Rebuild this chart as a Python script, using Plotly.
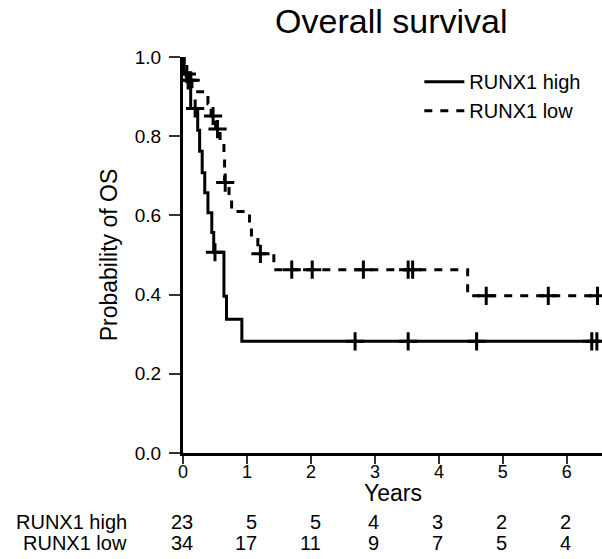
import numpy as np
import plotly.graph_objects as go

# ---- data ----
series_names = ["RUNX1 high", "RUNX1 low"]

high_event_times = [0.016, 0.12, 0.23, 0.26, 0.30, 0.34, 0.39, 0.45, 0.48, 0.64, 0.68, 0.92]
high_event_surv = [0.957, 0.870, 0.815, 0.762, 0.708, 0.657, 0.607, 0.557, 0.507, 0.396, 0.338, 0.282]
high_censor_times = [0.06, 0.19, 0.50, 2.69, 3.52, 4.59, 6.39, 6.47]

low_event_times = [0.016, 0.05, 0.14, 0.39, 0.44, 0.51, 0.58, 0.64, 0.65, 0.72, 0.76, 1.04, 1.07, 1.17, 1.42, 4.45]
low_event_surv = [0.971, 0.941, 0.912, 0.882, 0.851, 0.818, 0.786, 0.750, 0.683, 0.647, 0.610, 0.574, 0.539, 0.503, 0.463, 0.397]
low_censor_times = [0.08, 0.12, 0.47, 0.54, 0.66, 1.21, 1.70, 2.02, 2.82, 3.52, 3.59, 4.74, 5.71, 6.48]

x_ticks = [0, 1, 2, 3, 4, 5, 6]
y_ticks = [0.0, 0.2, 0.4, 0.6, 0.8, 1.0]
risk_high = [23, 5, 5, 4, 3, 2, 2]
risk_low = [34, 17, 11, 9, 7, 5, 4]

FONT = "Arial, Liberation Sans, sans-serif"


def step_curve(times, surv, end_time):
    xs = [0.0] + list(times) + [end_time]
    ys = [1.0] + list(surv) + [surv[-1]]
    return xs, ys


def surv_at(times, surv, t):
    idx = np.searchsorted(np.array(times), np.array(t), side="right")
    vals = np.concatenate([[1.0], surv])
    return vals[idx]


fig = go.Figure()

specs = [
    (series_names[1], low_event_times, low_event_surv, low_censor_times, "8px,8px", 3),
    (series_names[0], high_event_times, high_event_surv, high_censor_times, "solid", 3),
]

for name, et, es, ct, dash, lw in specs:
    xs, ys = step_curve(et, es, max(ct))
    fig.add_trace(go.Scatter(
        x=xs, y=ys, mode="lines", name=name,
        line=dict(color="black", width=lw, dash=dash, shape="hv"),
        legendrank=1 if name == series_names[0] else 2,
    ))
    fig.add_trace(go.Scatter(
        x=ct, y=surv_at(et, es, ct), mode="markers", showlegend=False,
        marker=dict(symbol="cross-thin", size=13, color="black",
                    line=dict(color="black", width=3)),
        hoverinfo="skip",
    ))

# number-at-risk table
annotations = []
rows = [(series_names[0], risk_high, -69), (series_names[1], risk_low, -90)]
for label, counts, shift in rows:
    annotations.append(dict(
        text=label, xref="paper", yref="paper", x=0, y=0,
        xanchor="right", yanchor="middle", xshift=-54, yshift=shift,
        showarrow=False, font=dict(family=FONT, size=20, color="black"),
    ))
for j, t in enumerate(x_ticks):
    w = max(len(str(risk_high[j])), len(str(risk_low[j]))) * 11.1
    for label, counts, shift in rows:
        annotations.append(dict(
            text=str(counts[j]), xref="x", yref="paper", x=t, y=0,
            xanchor="right", yanchor="middle", xshift=w / 2 + 1, yshift=shift,
            showarrow=False, font=dict(family=FONT, size=20, color="black"),
        ))
# x-axis title
annotations.append(dict(
    text="Years", xref="paper", yref="paper", x=0.5, y=0,
    xanchor="center", yanchor="middle", yshift=-40,
    showarrow=False, font=dict(family=FONT, size=23, color="black"),
))

fig.update_layout(
    template="none",
    width=602, height=559,
    margin=dict(l=183, r=0, t=57, b=106, autoexpand=False),
    plot_bgcolor="white", paper_bgcolor="white",
    font=dict(family=FONT, color="black"),
    title=dict(text="Overall survival", x=0.65, xanchor="center",
               y=1 - 21 / 559, yanchor="middle", yref="container",
               font=dict(family=FONT, size=34, color="black")),
    legend=dict(x=0.564, y=0.987, xanchor="left", yanchor="top",
                bgcolor="rgba(0,0,0,0)", itemwidth=40,
                font=dict(family=FONT, size=20, color="black"),
                tracegroupgap=0),
    annotations=annotations,
    showlegend=True,
)

fig.update_xaxes(
    range=[0, 6.55], tickvals=x_ticks, ticktext=[str(v) for v in x_ticks],
    showline=True, linewidth=3, linecolor="black", mirror=False,
    ticks="outside", ticklen=8, tickwidth=1.5, tickcolor="#333",
    ticklabelstandoff=-8, automargin=False,
    showgrid=False, zeroline=False,
    tickfont=dict(family=FONT, size=18, color="black"),
)
fig.update_yaxes(
    range=[0, 1], tickvals=y_ticks, ticktext=[f"{v:.1f}" for v in y_ticks],
    showline=True, linewidth=3, linecolor="black",
    ticks="outside", ticklen=11, tickwidth=1.5, tickcolor="#333",
    ticklabelstandoff=4, automargin=False,
    showgrid=False, zeroline=False,
    tickfont=dict(family=FONT, size=19, color="black"),
    title=dict(text="Probability of OS", standoff=11, font=dict(family=FONT, size=23, color="black")),
)

fig.write_html("out.html", config={"displayModeBar": False},
               post_script="document.body.style.margin='0px';")
